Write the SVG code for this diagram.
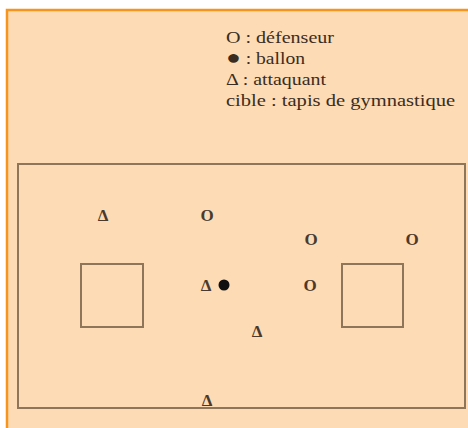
<svg xmlns="http://www.w3.org/2000/svg" width="468" height="428" viewBox="0 0 468 428">
<style>
.t{font-family:"Liberation Serif","DejaVu Serif",serif;fill:#3b2c22;font-size:16px}
.s{font-family:"Liberation Serif","DejaVu Serif",serif;fill:#4a3a2e;font-size:17px;font-weight:bold;text-anchor:middle;dominant-baseline:central}
.box{fill:none;stroke:#8f7658;stroke-width:2}
</style>
<rect x="0" y="0" width="468" height="428" fill="#ffffff"/>
<rect x="6" y="9" width="462" height="419" fill="#fddbb4"/>
<path d="M7 428 V10 H468" fill="none" stroke="#f7941d" stroke-width="2.5"/>
<g id="legend">
<text class="t" x="226" y="43" textLength="108" lengthAdjust="spacingAndGlyphs">O : défenseur</text>
<text class="t" x="226" y="64" textLength="79" lengthAdjust="spacingAndGlyphs"><tspan font-size="20">●</tspan> : ballon</text>
<text class="t" x="226" y="85" textLength="100" lengthAdjust="spacingAndGlyphs">Δ : attaquant</text>
<text class="t" x="226" y="106" textLength="229" lengthAdjust="spacingAndGlyphs">cible : tapis de gymnastique</text>
</g>
<g id="field"><rect class="box" x="18" y="164" width="447" height="244"/></g>
<g id="cible-gauche"><rect class="box" x="81" y="264" width="62" height="63"/></g>
<g id="cible-droite"><rect class="box" x="342" y="264" width="61" height="63"/></g>
<g id="att1"><text class="s" x="103" y="215">Δ</text></g>
<g id="def1"><text class="s" x="207" y="215">O</text></g>
<g id="def2"><text class="s" x="311" y="239">O</text></g>
<g id="def3"><text class="s" x="412" y="239">O</text></g>
<g id="att2"><text class="s" x="206" y="285">Δ</text></g>
<g id="ballon"><circle cx="224" cy="285" r="5.5" fill="#111"/></g>
<g id="def4"><text class="s" x="310" y="285">O</text></g>
<g id="att3"><text class="s" x="257" y="331">Δ</text></g>
<g id="att4"><text class="s" x="207" y="400">Δ</text></g>
<g id="connectors"></g>
</svg>
